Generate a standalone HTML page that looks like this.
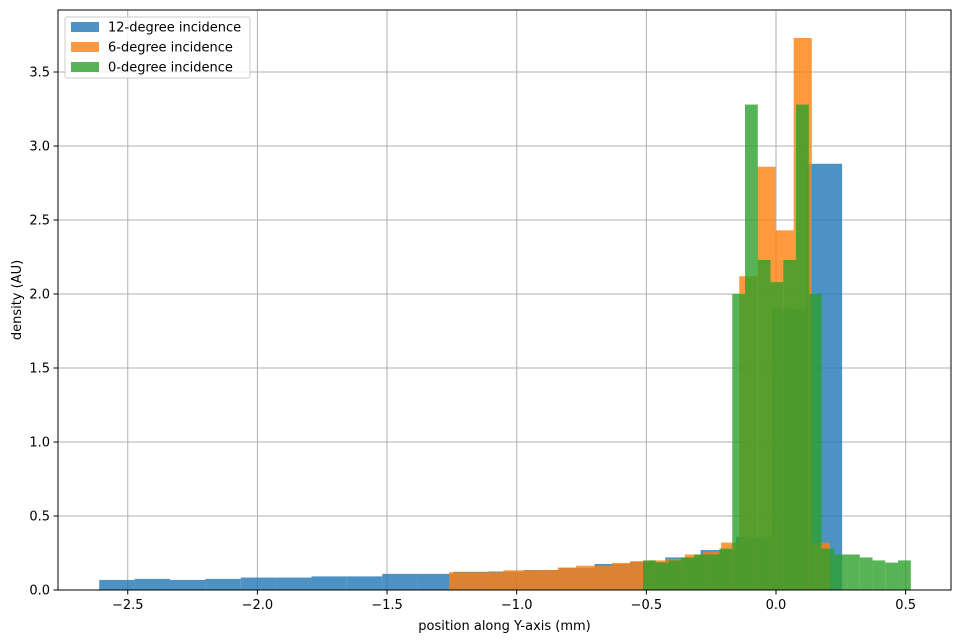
<!DOCTYPE html>
<html><head><meta charset="utf-8"><style>
html,body{margin:0;padding:0;background:#fff;}
svg{display:block;font-family:"DejaVu Sans","Liberation Sans",sans-serif;}
</style></head><body>
<svg id="chart" width="961" height="640" viewBox="0 0 961 640" xmlns="http://www.w3.org/2000/svg"></svg>
<script>
// ---- data ----
const xTicks = [-2.5, -2.0, -1.5, -1.0, -0.5, 0.0, 0.5];
const xTickLabels = ["\u22122.5", "\u22122.0", "\u22121.5", "\u22121.0", "\u22120.5", "0.0", "0.5"];
const yTicks = [0, 0.5, 1.0, 1.5, 2.0, 2.5, 3.0, 3.5];
const yTickLabels = ["0.0", "0.5", "1.0", "1.5", "2.0", "2.5", "3.0", "3.5"];
const seriesNames = ["12-degree incidence", "6-degree incidence", "0-degree incidence"];
const blueRange = [-2.61, 0.255];
const blueValues = [0.068,0.075,0.068,0.075,0.084,0.084,0.092,0.092,0.109,0.109,0.123,0.125,0.135,0.15,0.176,0.19,0.22,0.27,0.36,1.9,2.88];
const orangeRange = [-1.261, 0.208];
const orangeValues = [0.12,0.12,0.12,0.133,0.133,0.135,0.152,0.164,0.164,0.183,0.195,0.2,0.21,0.24,0.26,0.32,2.12,2.86,2.43,3.73,0.32];
const greenRange = [-0.513, 0.52];
const greenValues = [0.2,0.185,0.2,0.22,0.24,0.24,0.28,2.0,3.28,2.23,2.08,2.23,3.28,2.0,0.28,0.24,0.24,0.22,0.2,0.185,0.2];

// ---- layout ----
const L=58,R=951,T=10,B=590;
const xs = v => 776 + v*259.3;
const ys = v => 590 - v*148;
const NS="http://www.w3.org/2000/svg";
const svg=document.getElementById('chart');
function mk(tag,attrs,parent){const e=document.createElementNS(NS,tag);for(const k in attrs)e.setAttribute(k,attrs[k]);(parent||svg).appendChild(e);return e;}

// grid
const grid=mk('g',{});


xTicks.forEach(t=>{mk('line',{x1:xs(t),x2:xs(t),y1:T,y2:B,stroke:'#b0b0b0','stroke-width':1},grid);});
yTicks.forEach(t=>{mk('line',{x1:L,x2:R,y1:ys(t),y2:ys(t),stroke:'#b0b0b0','stroke-width':1},grid);});

// bars
function drawSeries(vals,range,color,name){
  const g=mk('g',{});
  
  
  const w=(range[1]-range[0])/vals.length;
  vals.forEach((v,i)=>{
    const x0=xs(range[0]+i*w), x1=xs(range[0]+(i+1)*w);
    const r=mk('rect',{x:x0,y:ys(v),width:x1-x0,height:ys(0)-ys(v),fill:color,'fill-opacity':0.8},g);
    
    
  });
}
drawSeries(blueValues,blueRange,'#1f77b4','series-12-degree');
drawSeries(orangeValues,orangeRange,'#ff7f0e','series-6-degree');
drawSeries(greenValues,greenRange,'#2ca02c','series-0-degree');

// frame
const fr=mk('rect',{x:L,y:T,width:R-L,height:B-T,fill:'none',stroke:'#000','stroke-width':1});



// ticks
xTicks.forEach((t,i)=>{
  mk('line',{x1:xs(t),x2:xs(t),y1:B,y2:B+4.5,stroke:'#000','stroke-width':1});
  const tx=mk('text',{x:xs(t),y:B+19,'text-anchor':'middle','font-size':13});
  tx.textContent=xTickLabels[i];
  
  
});
yTicks.forEach((t,i)=>{
  mk('line',{x1:L-4.5,x2:L,y1:ys(t),y2:ys(t),stroke:'#000','stroke-width':1});
  const tx=mk('text',{x:L-8,y:ys(t)+4.5,'text-anchor':'end','font-size':13});
  tx.textContent=yTickLabels[i];
  
  
});
const xl=mk('text',{x:(L+R)/2,y:630,'text-anchor':'middle','font-size':13});
xl.textContent='position along Y-axis (mm)';


const yl=mk('text',{x:0,y:0,'text-anchor':'middle','font-size':13,transform:'translate(21,300) rotate(-90)'});
yl.textContent='density (AU)';



// legend
const lg=mk('g',{});


mk('rect',{x:65,y:17,width:185,height:61,rx:2,fill:'#fff','fill-opacity':0.8,stroke:'#ccc','stroke-width':1},lg);
const cols=['#1f77b4','#ff7f0e','#2ca02c'];
seriesNames.forEach((n,i)=>{
  const y=27+i*20;
  const e=mk('g',{},lg);
  
  
  mk('rect',{x:71,y:y-5,width:28,height:10,fill:cols[i],'fill-opacity':0.8},e);
  const t=mk('text',{x:108,y:y+4.5,'font-size':13},e);
  t.textContent=n;
});
</script>
</body></html>
